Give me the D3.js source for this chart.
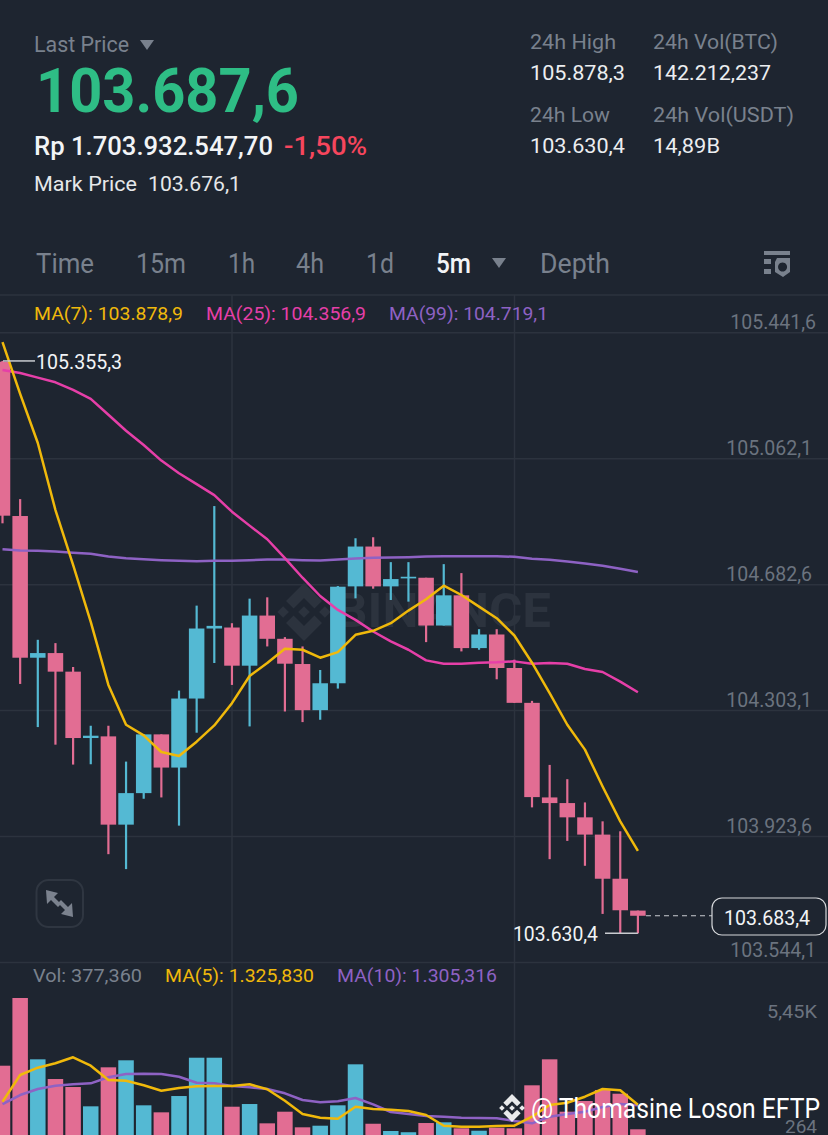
<!DOCTYPE html>
<html>
<head>
<meta charset="utf-8">
<script src="https://cdn.jsdelivr.net/npm/d3@7"></script>
<style>
  html, body { margin: 0; padding: 0; background: #1e2530; overflow: hidden; }
  svg { display: block; font-family: Roboto, sans-serif; }
</style>
</head>
<body>
<svg id="chart" width="828" height="1135"></svg>
<script>
// candles
const opens = [105353, 104888, 104461, 104475, 104419, 104219, 104224, 103958, 104053, 104230, 104130, 104338, 104549, 104552, 104437, 104588, 104518, 104442, 104303, 104384, 104676, 104796, 104676, 104700, 104702, 104558, 104649, 104490, 104531, 104430, 104325, 104040, 104023, 103980, 103928, 103795, 103699];
const closes = [104889, 104461, 104475, 104419, 104219, 104226, 103958, 104053, 104230, 104130, 104338, 104549, 104557, 104437, 104588, 104518, 104443, 104303, 104384, 104675, 104796, 104676, 104698, 104705, 104558, 104649, 104490, 104531, 104430, 104325, 104041, 104023, 103980, 103928, 103795, 103700, 103683.4];
const highs = [105355.3, 104939, 104515, 104505, 104433, 104256, 104256, 104148, 104230, 104230, 104362, 104618, 104918, 104565, 104639, 104643, 104523, 104495, 104424, 104677, 104821, 104824, 104749, 104749, 104702, 104743, 104716, 104547, 104547, 104455, 104331, 104138, 104095, 104025, 103968, 103938, 103699];
const lows = [104866, 104382, 104252, 104199, 104139, 104140, 103869, 103824, 104036, 104040, 103955, 104235, 104445, 104379, 104254, 104495, 104299, 104267, 104274, 104368, 104640, 104669, 104635, 104630, 104508, 104558, 104480, 104485, 104396, 104325, 104010, 103854, 103909, 103834, 103689, 103630.4, 103630.4];

const ma7 = [105412, 105256, 105108, 104906, 104741, 104569, 104379, 104259, 104227, 104177, 104165, 104208, 104257, 104324, 104406, 104445, 104488, 104485, 104461, 104478, 104530, 104542, 104565, 104603, 104637, 104678, 104650, 104615, 104580, 104528, 104446, 104354, 104259, 104184, 104073, 103968, 103878.9];
const ma25 = [105328, 105319, 105305, 105291, 105268, 105241, 105193, 105145, 105102, 105055, 105017, 104984, 104951, 104901, 104859, 104818, 104761, 104702, 104647, 104605, 104575, 104540, 104510, 104485, 104453, 104443, 104443, 104446, 104447, 104450, 104443, 104445, 104443, 104427, 104418, 104389, 104356.9];
const ma99 = [104788, 104784, 104783, 104781, 104777, 104774, 104766, 104761, 104758, 104755, 104753, 104752, 104753, 104753, 104755, 104757, 104757, 104755, 104754, 104757, 104760, 104762, 104763, 104764, 104766, 104767, 104767, 104767, 104767, 104765, 104759, 104756, 104751, 104745, 104738, 104729, 104719.1];

const volumes = [2834, 5450, 3081, 2320, 2011, 1265, 2772, 3043, 1304, 1033, 1663, 3143, 3143, 1250, 1354, 608, 1057, 454, 516, 1304, 2888, 592, 312, 264, 620, 647, 415, 322, 439, 415, 2077, 3081, 1057, 1470, 1895, 1752, 377.36];
const volMa5 = [1443, 2475, 2757, 2927, 3159, 2834, 2282, 2255, 2077, 1868, 1972, 2038, 2050, 2050, 2115, 1922, 1481, 968, 825, 786, 1250, 1161, 1134, 1084, 929, 516, 477, 477, 504, 516, 864, 1315, 1404, 1636, 1934, 1883, 1325.83];
const volMa10 = [1354, 1702, 1934, 2061, 2115, 2154, 2386, 2513, 2525, 2513, 2409, 2177, 2154, 2050, 1999, 1934, 1768, 1509, 1420, 1459, 1586, 1343, 1045, 968, 890, 864, 825, 813, 802, 697, 609, 864, 968, 1057, 1238, 1354, 1305.32];

const priceTicks = [105441.6, 105062.1, 104682.6, 104303.1, 103923.6, 103544.1];
const tabs = ["Time", "15m", "1h", "4h", "1d", "5m", "Depth"];

const bg = "#1e2530";
const grid = "#2c333e";
const pink = "#e26d93";
const blue = "#54b9d3";
const yellow = "#f0b90b";
const magenta = "#e63fa8";
const purple = "#8e62c4";
const dim = "#79818d";
const axisGrey = "#6b737f";

const svg = d3.select("#chart");
const idLocale = d3.formatLocale({ decimal: ",", thousands: ".", grouping: [3], currency: ["", ""] });
const fmtPrice = idLocale.format(",.1f");

const x = d3.scaleLinear().domain([0, 36]).range([2.5, 637.9]);
const y = d3.scaleLinear().domain([103544.1, 105441.6]).range([962, 332.3]);
const yVol = d3.scaleLinear().domain([377.36, 5450]).range([1129.3, 998]);
const bodyW = 15.5;

// text is stretched to the width measured on the picture, Roboto is not the app font
function label(txt, x0, x1, base, size, fill, weight) {
  return svg.append("text")
    .attr("x", x0)
    .attr("y", base)
    .attr("textLength", x1 - x0)
    .attr("lengthAdjust", "spacingAndGlyphs")
    .style("font-size", size + "px")
    .style("font-weight", weight || 400)
    .style("fill", fill)
    .text(txt);
}

function tri(cx, top, w, h, fill) {
  svg.append("path")
    .attr("d", `M${cx - w / 2},${top}H${cx + w / 2}L${cx},${top + h}Z`)
    .style("fill", fill);
}

function binanceLogo(g, c, s, fill) {
  // five diamonds, s = half size of the whole mark
  const d = s * 0.2;
  const spots = [[0, 0], [-s * 0.72, 0], [s * 0.72, 0]];
  spots.forEach(p => {
    g.append("path")
      .attr("d", `M${c[0] + p[0]},${c[1] + p[1] - d}l${d},${d}l${-d},${d}l${-d},${-d}Z`)
      .style("fill", fill);
  });
  [-1, 1].forEach(k => {
    const tipY = c[1] + k * s;
    const a = s * 0.62, t = s * 0.26;
    g.append("path")
      .attr("d", `M${c[0]},${tipY}L${c[0] + a},${tipY - k * a}L${c[0] + a - t},${tipY - k * (a + t)}L${c[0]},${tipY - k * 2 * t}L${c[0] - a + t},${tipY - k * (a + t)}L${c[0] - a},${tipY - k * a}Z`)
      .style("fill", fill);
  });
}

// header
label("Last Price", 34, 129, 52, 22, dim);
tri(147, 40, 14, 10, dim);
label("103.687,6", 36, 299, 112, 62, "#2ebd85", 700);
label("Rp 1.703.932.547,70", 34, 273, 155, 25, "#f2f4f6", 500);
label("-1,50%", 284, 367, 155, 25, "#f6465d", 500);
label("Mark Price", 34, 137, 191, 21, "#e6e8ea");
label("103.676,1", 148, 241, 191, 21, "#e6e8ea");

label("24h High", 530, 616, 49, 21, dim);
label("24h Vol(BTC)", 653, 778, 49, 21, dim);
label("105.878,3", 530, 625, 80, 21, "#eceef0");
label("142.212,237", 653, 771, 80, 21, "#eceef0");
label("24h Low", 530, 610, 122, 21, dim);
label("24h Vol(USDT)", 653, 794, 122, 21, dim);
label("103.630,4", 530, 625, 153, 21, "#eceef0");
label("14,89B", 653, 720, 153, 21, "#eceef0");

// tab row
const tabX = [[36, 94], [136, 186], [228, 255], [296, 324], [366, 394], [436, 471], [540, 610]];
tabs.forEach((t, i) => {
  const on = t === "5m";
  label(t, tabX[i][0], tabX[i][1], 273, 27, on ? "#f2f4f6" : dim, on ? 500 : 400);
});
tri(499, 258, 14, 10, dim);

const icon = svg.append("g").style("fill", dim);
icon.append("rect").attr("x", 764).attr("y", 251).attr("width", 26).attr("height", 4);
icon.append("rect").attr("x", 764).attr("y", 259).attr("width", 7).attr("height", 5);
icon.append("rect").attr("x", 764).attr("y", 269).attr("width", 7).attr("height", 5);
icon.append("path")
  .attr("fill-rule", "evenodd")
  .attr("d", "M777,258L790,258L790,272L783,277L775,272L775,262ZM782.5,262.500a4.500,4.500 0 1,0 0.100,0Z");

svg.append("line").attr("x1", 0).attr("x2", 828).attr("y1", 295).attr("y2", 295).style("stroke", grid).style("stroke-width", 1.5);

// grid + price axis
[232, 514.5].forEach(vx => {
  svg.append("line").attr("x1", vx).attr("x2", vx).attr("y1", 295).attr("y2", 1135).style("stroke", grid).style("stroke-width", 1.5);
});

const priceAxis = d3.axisRight(y).tickValues(priceTicks).tickSize(828).tickFormat(fmtPrice);
const axisG = svg.append("g").call(priceAxis);
axisG.select(".domain").remove();
axisG.selectAll(".tick line").style("stroke", grid).style("stroke-width", 1.5);
axisG.selectAll(".tick text")
  .attr("x", d => (d === 105441.6 || d === 103544.1 ? 816 : 812))
  .attr("dy", 0)
  .attr("y", d => (d === 103544.1 ? -6 : -4))
  .attr("text-anchor", "end")
  .style("font-family", "Roboto, sans-serif")
  .style("font-size", "19.5px")
  .style("fill", axisGrey);

// legends
label("MA(7): 103.878,9", 34, 183, 320, 19, yellow);
label("MA(25): 104.356,9", 206, 366, 320, 19, magenta);
label("MA(99): 104.719,1", 389, 548, 320, 19, purple);

// faded logo behind the candles
const mark = svg.append("g");
binanceLogo(mark, [304, 612], 29, "#2c333e");
label("BINANCE", 335, 551, 627, 48, "#2c333e", 700);

// candles
const idx = d3.range(opens.length);
const isUp = i => closes[i] >= opens[i];
const candleColor = i => (isUp(i) ? blue : pink);

svg.append("g").selectAll("line")
  .data(idx)
  .enter()
  .append("line")
  .attr("x1", i => x(i))
  .attr("x2", i => x(i))
  .attr("y1", i => y(highs[i]))
  .attr("y2", i => y(lows[i]))
  .style("stroke", candleColor)
  .style("stroke-width", 2.2);

svg.append("g").selectAll("rect")
  .data(idx)
  .enter()
  .append("rect")
  .attr("x", i => x(i) - bodyW / 2)
  .attr("width", bodyW)
  .attr("y", i => y(Math.max(opens[i], closes[i])))
  .attr("height", i => Math.max(1.5, Math.abs(y(opens[i]) - y(closes[i]))))
  .style("fill", candleColor);

function drawLine(values, scale, color, width) {
  const line = d3.line().x((d, i) => x(i)).y(d => scale(d));
  svg.append("path")
    .attr("d", line(values))
    .style("fill", "none")
    .style("stroke", color)
    .style("stroke-width", width)
    .style("stroke-linejoin", "round");
}

drawLine(ma99, y, purple, 2.5);
drawLine(ma25, y, magenta, 2.5);
drawLine(ma7, y, yellow, 2.5);

// high / low / last price markers
const hiVal = d3.max(highs);
const loVal = d3.min(lows);
const last = closes[closes.length - 1];

svg.append("line").attr("x1", 3).attr("x2", 35).attr("y1", y(hiVal)).attr("y2", y(hiVal)).style("stroke", "#c9ccd0").style("stroke-width", 1.5);
label(fmtPrice(hiVal), 36, 122, y(hiVal) + 8, 19.5, "#f2f4f6");
svg.append("line").attr("x1", 605).attr("x2", x(36)).attr("y1", y(loVal)).attr("y2", y(loVal)).style("stroke", "#c9ccd0").style("stroke-width", 1.5);
label(fmtPrice(loVal), 513, 598, y(loVal) + 8, 19.5, "#f2f4f6");

svg.append("line").attr("x1", 646).attr("x2", 712).attr("y1", y(last)).attr("y2", y(last))
  .style("stroke", "#c9ccd0").style("stroke-width", 1.2).style("stroke-dasharray", "5 4");
svg.append("rect").attr("x", 712).attr("y", 898).attr("width", 114).attr("height", 37).attr("rx", 10)
  .style("fill", bg).style("stroke", "#d5d7da").style("stroke-width", 1.2);
label(fmtPrice(last), 724, 810, 925, 20, "#f2f4f6", 400);

// expand button
svg.append("rect").attr("x", 36.500).attr("y", 880).attr("width", 46.500).attr("height", 47).attr("rx", 12)
  .style("fill", "none").style("stroke", "#2f3641").style("stroke-width", 2);
svg.append("path")
  .attr("d", "M46,890L58,893L54,897L61,904L58,907L51,900L47,904ZM73,917L61,914L65,910L58,903L61,900L68,907L72,903Z")
  .style("fill", "#7b828e");

// volume pane
label("Vol: 377,360", 33, 142, 982, 19, dim);
label("MA(5): 1.325,830", 165, 314, 982, 19, yellow);
label("MA(10): 1.305,316", 337, 497, 982, 19, purple);
label("5,45K", 767, 817, 1018, 19, axisGrey);
label("264", 785, 817, 1133, 19, axisGrey);

svg.append("g").selectAll("rect")
  .data(idx)
  .enter()
  .append("rect")
  .attr("x", i => x(i) - bodyW / 2)
  .attr("width", bodyW)
  .attr("y", i => yVol(volumes[i]))
  .attr("height", i => 1135 - yVol(volumes[i]))
  .style("fill", candleColor);

drawLine(volMa10, yVol, purple, 2.5);
drawLine(volMa5, yVol, yellow, 2.5);

// watermark
const wm = svg.append("g").style("opacity", 0.95);
binanceLogo(wm, [512, 1108], 14, "#f4f5f6");
label("@ Thomasine Loson EFTP", 531, 820, 1118, 27, "#ffffff", 400);
</script>
</body>
</html>
